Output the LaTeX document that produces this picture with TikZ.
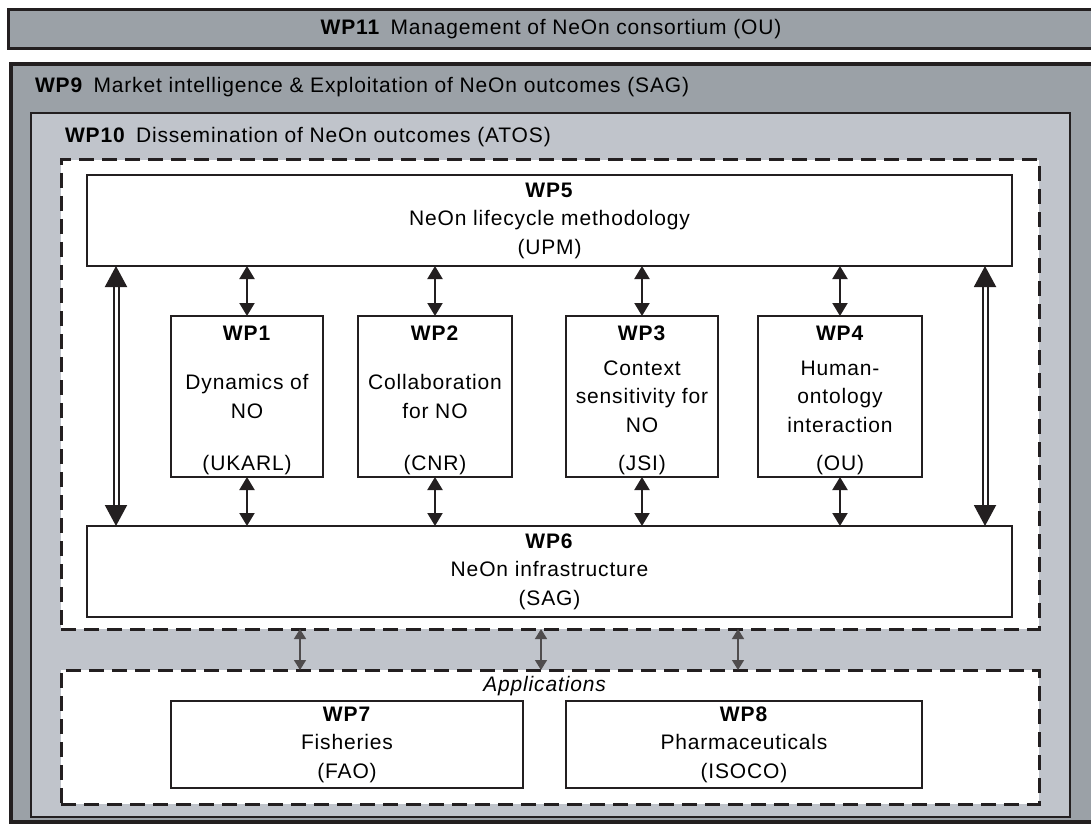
\documentclass[tikz,border=0pt]{standalone}
\usepackage{fontspec}
\setmainfont{Liberation Sans}[LetterSpace=4]
\usetikzlibrary{arrows.meta,positioning}
\definecolor{outergray}{RGB}{155,161,167}
\definecolor{innergray}{RGB}{192,196,203}
\definecolor{ink}{RGB}{35,31,32}
\newcommand{\wpname}[1]{\textbf{#1}}

\begin{document}
\begin{tikzpicture}[x=1pt, y=-1pt,
  font=\fontsize{21}{28.5}\selectfont,
  every node/.style={outer sep=0pt},
  band/.style={draw=ink, fill=outergray, anchor=north west, inner sep=0pt},
  wpbox/.style={draw=ink, line width=1.3pt, fill=white, anchor=north west,
    inner sep=0pt, align=center},
  dashframe/.style={draw=ink, line width=3pt, dash pattern=on 15pt off 8pt,
    fill=white, anchor=north west, inner sep=0pt},
  link/.style={draw=ink, line width=2pt,
    {Triangle[length=13pt,width=15pt]}-{Triangle[length=13pt,width=15pt]}},
  applink/.style={draw=ink!80, line width=1.4pt,
    {Triangle[length=10pt,width=12pt]}-{Triangle[length=10pt,width=12pt]}},
  biglink/.style={draw=ink, line width=2pt, double=white, double distance=3pt,
    {Triangle[length=21pt,width=22pt]}-{Triangle[length=21pt,width=22pt]}}]
\useasboundingbox (0,0) rectangle (1091,826);

% management and exploitation bands
\node[band, line width=3pt, minimum width=1086pt, minimum height=39pt] (wp11)
  at (8,9.5) {\wpname{WP11}\enspace Management of NeOn consortium (OU)};
\node[band, line width=4pt, minimum width=1090pt, minimum height=757pt] (wp9)
  at (10.5,64.5) {};
\node[anchor=west, inner sep=0pt] (wp9title) at (35,87)
  {\wpname{WP9}\enspace Market intelligence \& Exploitation of NeOn outcomes (SAG)};
\node[draw=ink, line width=1.3pt, fill=innergray, anchor=north west,
  inner sep=0pt, minimum width=1039pt, minimum height=704pt] (wp10) at (31,113) {};
\node[anchor=west, inner sep=0pt] (wp10title) at (65,137)
  {\wpname{WP10}\enspace Dissemination of NeOn outcomes (ATOS)};

% core and applications frames
\node[dashframe, minimum width=978pt, minimum height=469pt] (core) at (61,160) {};
\node[dashframe, minimum width=978pt, minimum height=134pt] (apps) at (61,670) {};
\node (applbl) at (545,686) {\textit{Applications}};

\node[wpbox, minimum width=925pt, minimum height=91pt] (wp5) at (87,175)
  {\wpname{WP5}\\NeOn lifecycle methodology\\(UPM)};
\node[wpbox, minimum width=925pt, minimum height=91pt] (wp6) at (87,526)
  {\wpname{WP6}\\NeOn infrastructure\\(SAG)};

\node[wpbox, minimum width=152pt, minimum height=161pt] (wp1) at (171,316)
  {Dynamics of\\NO};
\node[wpbox, minimum width=154pt, minimum height=161pt] (wp2) at (358,316)
  {Collaboration\\for NO};
\node[wpbox, minimum width=152pt, minimum height=161pt] (wp3) at (566,316)
  {Context\\sensitivity for\\NO};
\node[wpbox, minimum width=164pt, minimum height=161pt] (wp4) at (758,316)
  {Human-\\ontology\\interaction};
\node (wp1title) at ([yshift=-17pt]wp1.north) {\wpname{WP1}};
\node (wp2title) at ([yshift=-17pt]wp2.north) {\wpname{WP2}};
\node (wp3title) at ([yshift=-17pt]wp3.north) {\wpname{WP3}};
\node (wp4title) at ([yshift=-17pt]wp4.north) {\wpname{WP4}};
\node (wp1org) at ([yshift=12pt]wp1.south) {(UKARL)};
\node (wp2org) at ([yshift=12pt]wp2.south) {(CNR)};
\node (wp3org) at ([yshift=12pt]wp3.south) {(JSI)};
\node (wp4org) at ([yshift=12pt]wp4.south) {(OU)};

\node[wpbox, minimum width=352pt, minimum height=87pt] (wp7) at (171,701)
  {\wpname{WP7}\\Fisheries\\(FAO)};
\node[wpbox, minimum width=356pt, minimum height=87pt] (wp8) at (566,701)
  {\wpname{WP8}\\Pharmaceuticals\\(ISOCO)};

% links to methodology and infrastructure
\draw[link] (wp5.south -| wp1.north) -- (wp1.north);
\draw[link] (wp5.south -| wp2.north) -- (wp2.north);
\draw[link] (wp5.south -| wp3.north) -- (wp3.north);
\draw[link] (wp5.south -| wp4.north) -- (wp4.north);
\draw[link] (wp1.south) -- (wp6.north -| wp1.south);
\draw[link] (wp2.south) -- (wp6.north -| wp2.south);
\draw[link] (wp3.south) -- (wp6.north -| wp3.south);
\draw[link] (wp4.south) -- (wp6.north -| wp4.south);
\draw[biglink] ([xshift=29pt]wp5.south west) -- ([xshift=29pt]wp6.north west);
\draw[biglink] ([xshift=-27pt]wp5.south east) -- ([xshift=-27pt]wp6.north east);

% links to applications
\draw[applink] ([xshift=239pt]core.south west) -- ([xshift=239pt]apps.north west);
\draw[applink] ([xshift=480pt]core.south west) -- ([xshift=480pt]apps.north west);
\draw[applink] ([xshift=677pt]core.south west) -- ([xshift=677pt]apps.north west);
\end{tikzpicture}
\end{document}
